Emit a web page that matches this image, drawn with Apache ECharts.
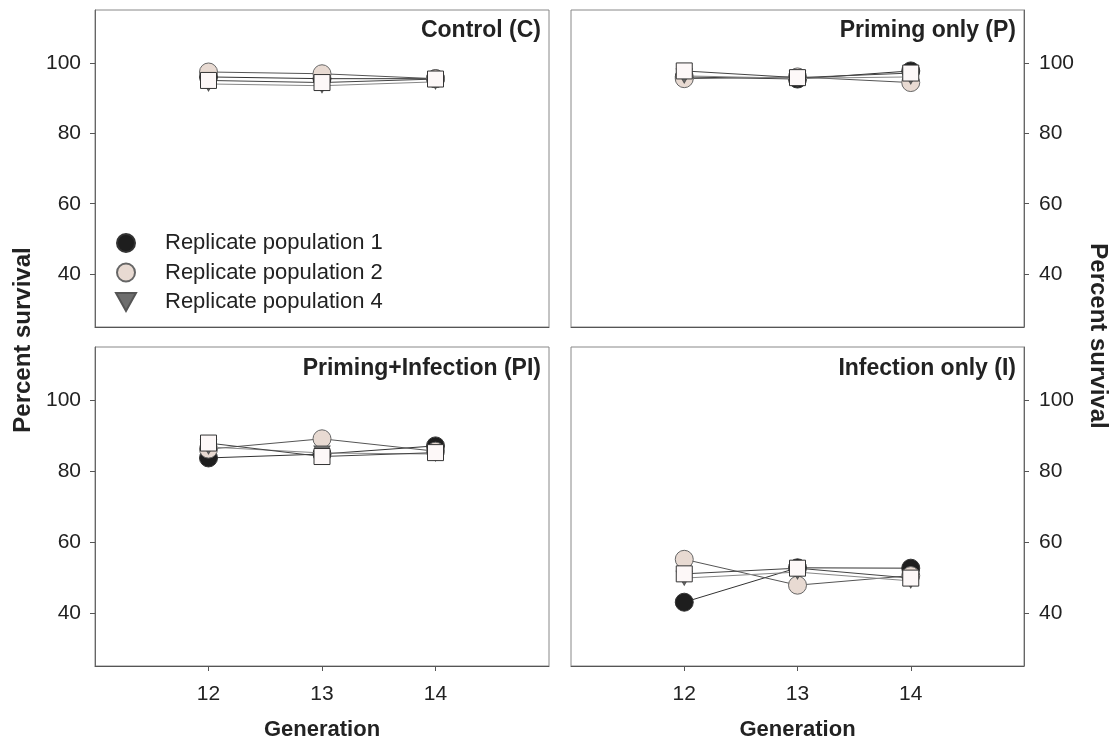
<!DOCTYPE html>
<html>
<head>
<meta charset="utf-8">
<script src="https://cdn.jsdelivr.net/npm/echarts@6/dist/echarts.min.js"></script>
<style>html,body{margin:0;padding:0;background:#fff;}#c{width:1120px;height:744px;}</style>
</head>
<body>
<div id="c"></div>
<script>
const generations = [12, 13, 14];
const yTicks = [40, 60, 80, 100];
const xTicks = [12, 13, 14];
const panelTitles = ['Control (C)', 'Priming only (P)', 'Priming+Infection (PI)', 'Infection only (I)'];
const seriesNames = ['Replicate population 1', 'Replicate population 2', 'Replicate population 3', 'Replicate population 4'];
const legendNames = ['Replicate population 1', 'Replicate population 2', 'Replicate population 4'];

// values per panel: [rep1, rep2, rep3 (square), rep4]
const controlRep1 = [96.0, 95.5, 95.5];
const controlRep2 = [97.4, 96.9, 95.5];
const controlRep3 = [95.0, 94.4, 95.4];
const controlRep4 = [94.0, 93.5, 94.6];

const primingRep1 = [96.0, 95.4, 97.7];
const primingRep2 = [95.5, 96.0, 94.4];
const primingRep3 = [97.7, 95.8, 97.1];
const primingRep4 = [96.3, 95.6, 96.0];

const primInfRep1 = [83.7, 84.8, 87.1];
const primInfRep2 = [86.2, 89.1, 85.6];
const primInfRep3 = [87.9, 84.1, 85.2];
const primInfRep4 = [86.8, 85.1, 84.8];

const infectRep1 = [43.0, 52.7, 52.6];
const infectRep2 = [55.1, 47.8, 50.5];
const infectRep3 = [51.0, 52.6, 49.8];
const infectRep4 = [49.8, 51.5, 49.0];

const panels = [
  [controlRep1, controlRep2, controlRep3, controlRep4],
  [primingRep1, primingRep2, primingRep3, primingRep4],
  [primInfRep1, primInfRep2, primInfRep3, primInfRep4],
  [infectRep1, infectRep2, infectRep3, infectRep4]
];

const FONT = 'Arial, "Liberation Sans", sans-serif';
const triPath = 'path://M0,0 L10,0 L5,9 Z';
const styles = [
  {symbol: 'circle', size: 18, color: '#1e1e1e', border: '#333', line: '#333', z: 2},
  {symbol: 'circle', size: 18, color: '#e8dad2', border: '#666', line: '#555', z: 3},
  {symbol: 'rect', size: 16, color: '#fdf8f8', border: '#333', line: '#444', z: 5},
  {symbol: triPath, size: [16, 14], color: '#6e6e6e', border: '#555', line: '#888', z: 4}
];

const grids = [
  {left: 95, top: 10, width: 454, height: 317},
  {left: 571, top: 10, width: 453, height: 317},
  {left: 95, top: 347, width: 454, height: 319},
  {left: 571, top: 347, width: 453, height: 319}
].map(g => Object.assign({show: true, borderColor: '#888', borderWidth: 1, backgroundColor: '#fff'}, g));

const xAxes = grids.map((g, i) => {
  const bottom = i >= 2;
  return {
    gridIndex: i, type: 'value', min: 11, max: 15,
    splitLine: {show: false},
    axisLine: {show: true, lineStyle: {color: '#555', width: 1}},
    axisTick: {show: bottom, length: 5, customValues: xTicks, lineStyle: {color: '#555'}},
    axisLabel: {show: bottom, customValues: xTicks, margin: 18, fontSize: 21, color: '#222', fontFamily: FONT},
    name: bottom ? 'Generation' : '', nameLocation: 'middle', nameGap: 53,
    nameTextStyle: {fontSize: 22, fontWeight: 'bold', color: '#222', fontFamily: FONT}
  };
});

const yAxes = grids.map((g, i) => {
  const left = (i % 2 === 0);
  return {
    gridIndex: i, type: 'value', min: 25, max: 115,
    position: left ? 'left' : 'right',
    splitLine: {show: false},
    axisLine: {show: true, lineStyle: {color: '#666', width: 1}},
    axisTick: {show: true, length: 5, customValues: yTicks, lineStyle: {color: '#555'}},
    axisLabel: {customValues: yTicks, margin: left ? 14 : 15, fontSize: 21, color: '#222', fontFamily: FONT}
  };
});

const series = [];
panels.forEach((reps, p) => {
  reps.forEach((vals, r) => {
    const s = styles[r];
    series.push({
      name: seriesNames[r], type: 'line', xAxisIndex: p, yAxisIndex: p,
      data: generations.map((g, k) => [g, vals[k]]),
      symbol: s.symbol, symbolSize: s.size, showAllSymbol: true,
      lineStyle: {color: s.line, width: 1},
      itemStyle: {color: s.color, borderColor: s.border, borderWidth: 1},
      z: s.z, animation: false
    });
  });
});

const titlePos = [[541, 31], [1016, 31], [541, 369], [1016, 369]];
const graphics = panelTitles.map((t, i) => ({
  type: 'text', x: titlePos[i][0], y: titlePos[i][1], z: 100,
  style: {text: t, align: 'right', verticalAlign: 'middle', fontSize: 23, fontWeight: 'bold', fontFamily: FONT, fill: '#222'}
}));
graphics.push({
  type: 'text', x: 23, y: 340, rotation: Math.PI / 2,
  style: {text: 'Percent survival', align: 'center', verticalAlign: 'middle', fontSize: 24, fontWeight: 'bold', fontFamily: FONT, fill: '#222'}
});
graphics.push({
  type: 'text', x: 1098, y: 336, rotation: -Math.PI / 2,
  style: {text: 'Percent survival', align: 'center', verticalAlign: 'middle', fontSize: 24, fontWeight: 'bold', fontFamily: FONT, fill: '#222'}
});

const legendIcons = ['circle', 'circle', triPath];
const chart = echarts.init(document.getElementById('c'), null, {renderer: 'canvas'});
chart.setOption({
  backgroundColor: '#fff',
  animation: false,
  grid: grids,
  xAxis: xAxes,
  yAxis: yAxes,
  legend: {
    orient: 'vertical', left: 110, top: 227, itemWidth: 68, itemHeight: 18, itemGap: 7.5,
    selectedMode: false,
    textStyle: {fontSize: 22, lineHeight: 22, color: '#222', fontFamily: FONT},
    data: legendNames.map((n, i) => ({name: n, icon: legendIcons[i]}))
  },
  graphic: graphics,
  series: series
});
</script>
</body>
</html>
